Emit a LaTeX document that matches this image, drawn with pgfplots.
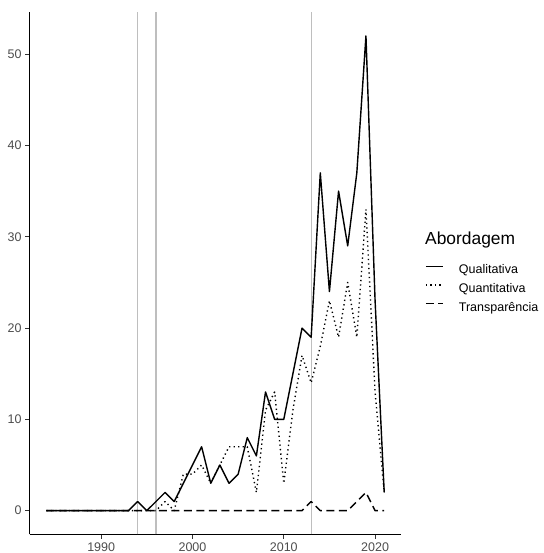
\documentclass[border=0pt]{standalone}
\usepackage{fontspec}
\setmainfont{Liberation Sans}
\usepackage{pgfplots}
\usepackage{pgfplotstable}
\pgfplotsset{compat=1.18}
\definecolor{tickgray}{HTML}{4D4D4D}
\definecolor{vgray}{HTML}{BEBEBE}

\pgfplotstableread{
year qual quant transp
1984 0 0 0
1985 0 0 0
1986 0 0 0
1987 0 0 0
1988 0 0 0
1989 0 0 0
1990 0 0 0
1991 0 0 0
1992 0 0 0
1993 0 0 0
1994 1 0 0
1995 0 0 0
1996 1 0 0
1997 2 1 0
1998 1 0 0
1999 3 4 0
2000 5 4 0
2001 7 5 0
2002 3 3 0
2003 5 5 0
2004 3 7 0
2005 4 7 0
2006 8 7 0
2007 6 2 0
2008 13 11 0
2009 10 13 0
2010 10 3 0
2011 15 11 0
2012 20 17 0
2013 19 14 1
2014 37 18 0
2015 24 23 0
2016 35 19 0
2017 29 25 0
2018 37 19 1
2019 52 33 2
2020 23 13 0
2021 2 2 0
}\datatable

\begin{document}
\begin{tikzpicture}[x=1pt,y=1pt]
\path[use as bounding box] (0,0) rectangle (543,553);
\begin{axis}[
  at={(29.5pt,18.6pt)}, anchor=south west,
  scale only axis, width=371.6pt, height=522.2pt,
  xmin=1982.15, xmax=2022.85, ymin=-2.6, ymax=54.6,
  axis lines*=left,
  axis line style={line width=1.1pt, black, -},
  xtick={1990,2000,2010,2020},
  ytick={0,10,20,30,40,50},
  tick align=outside,
  major tick length=4.5pt,
  tick style={line width=1pt, color=black!80},
  ticklabel style={font=\fontsize{12.5}{14}\selectfont, text=tickgray},
  /pgf/number format/assume math mode=true,
  /pgf/number format/1000 sep={},
  clip=false,
  legend image code/.code={
    \draw[#1] (0pt,4.5pt) -- (17pt,4.5pt);
    \path[draw=none, fill=none] (0pt,-2.5pt) rectangle (33pt,9pt);
  },
  legend style={
    at={(axis description cs:1.0643,0.5225)}, anchor=north west,
    draw=none, fill=none, inner sep=0pt, row sep=4pt, column sep=0pt,
    nodes={inner sep=0pt, text height=9pt, text depth=2.5pt},
    font=\fontsize{12.5}{14}\selectfont,
  },
  legend cell align=left,
]
\addplot[vgray, line width=1.1pt, forget plot] coordinates {(1994,-2.6) (1994,54.6)};
\addplot[vgray, line width=1.1pt, forget plot] coordinates {(1996,-2.6) (1996,54.6)};
\addplot[vgray, line width=1.1pt, forget plot] coordinates {(2013,-2.6) (2013,54.6)};

\addplot[black, line width=1.4pt, line join=round] table[x=year, y=qual] {\datatable};
\addlegendentry{Qualitativa}
\addplot[black, line width=1.4pt, line join=round, dash pattern=on 1.3pt off 3.2pt] table[x=year, y=quant] {\datatable};
\addlegendentry{Quantitativa}
\addplot[black, line width=1.4pt, line join=round, dash pattern=on 8pt off 4.5pt] table[x=year, y=transp] {\datatable};
\addlegendentry{Transparência}
\end{axis}
\node[anchor=west, inner sep=0pt, font=\fontsize{17.4}{20}\selectfont] at (425,313) {Abordagem};
\end{tikzpicture}
\end{document}
